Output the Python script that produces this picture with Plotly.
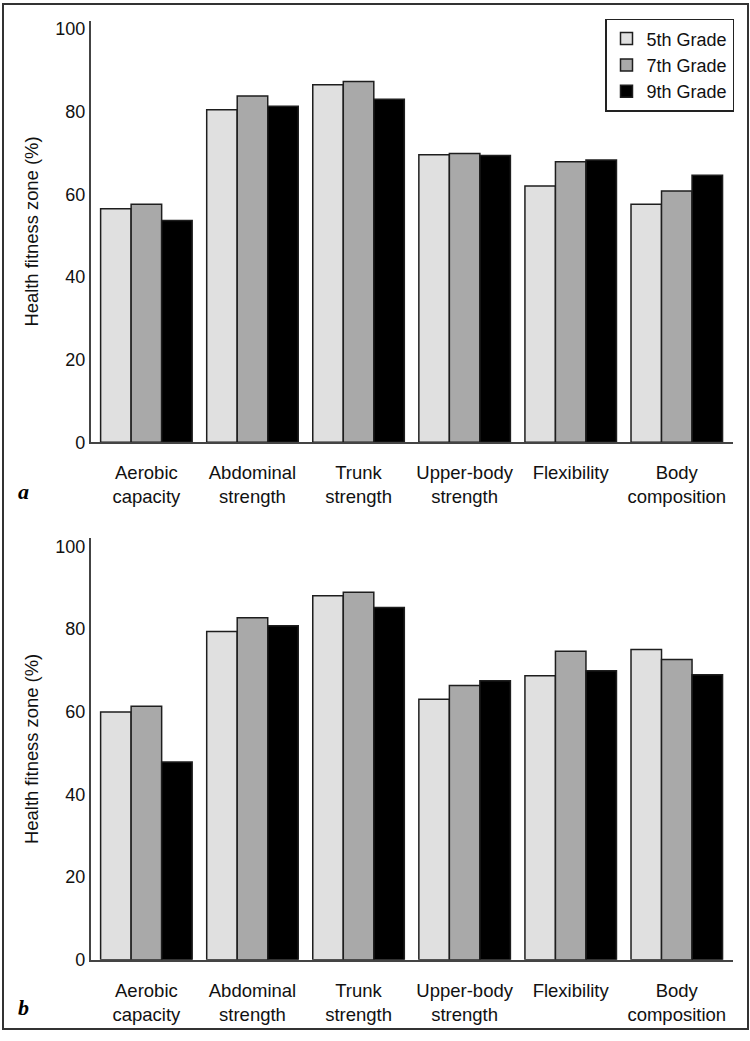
import plotly.graph_objects as go

# Fitness components (x categories) and grade groups
categories = ["Aerobic<br>capacity", "Abdominal<br>strength", "Trunk<br>strength",
              "Upper-body<br>strength", "Flexibility", "Body<br>composition"]
grades = ["5th Grade", "7th Grade", "9th Grade"]

# Panel a: percentage in the healthy fitness zone
panel_a_5th = [56.5, 80.5, 86.5, 69.6, 62.0, 57.6]
panel_a_7th = [57.6, 83.8, 87.3, 69.9, 67.9, 60.8]
panel_a_9th = [53.7, 81.3, 83.0, 69.4, 68.3, 64.6]

# Panel b: percentage in the healthy fitness zone
panel_b_5th = [59.9, 79.4, 88.0, 63.0, 68.7, 75.0]
panel_b_7th = [61.3, 82.7, 88.9, 66.3, 74.6, 72.6]
panel_b_9th = [47.8, 80.8, 85.2, 67.5, 69.9, 68.9]

y_ticks = [0, 20, 40, 60, 80, 100]

fills = ["#e0e0e0", "#a9a9a9", "#000000"]
outline = "#1e1e1e"
axis_col = "#444444"
font_family = "Liberation Sans, Arial, Helvetica, sans-serif"

W, H = 750, 1041

fig = go.Figure()

panels = [
    ("x", "y", [panel_a_5th, panel_a_7th, panel_a_9th], True),
    ("x2", "y2", [panel_b_5th, panel_b_7th, panel_b_9th], False),
]
for xa, ya, series, show in panels:
    for name, vals, col in zip(grades, series, fills):
        fig.add_trace(go.Bar(
            x=categories, y=vals, name=name, xaxis=xa, yaxis=ya,
            marker=dict(color=col, line=dict(color=outline, width=1.5)),
            showlegend=show, legendgroup=name,
        ))

def px_x(p):
    return p / W

def px_y(p):
    return 1 - p / H

x_dom = [px_x(90.7), px_x(733)]
x_range = [-0.525, 5.53]
y_range = [0, 102]

xaxis_common = dict(
    type="category", categoryorder="array", categoryarray=categories,
    range=x_range, showline=True, linecolor=axis_col, linewidth=1.5,
    ticks="", showgrid=False, zeroline=False,
    tickfont=dict(family=font_family, size=18.5, color="#111111"),
    ticklabelstandoff=13, fixedrange=True,
)
yaxis_common = dict(
    range=y_range, tickvals=y_ticks, showline=True, linecolor=axis_col,
    linewidth=1.5, ticks="", showgrid=False, zeroline=False,
    tickfont=dict(family=font_family, size=18, color="#111111"),
    ticklabelstandoff=0,
    title=dict(text="Health fitness zone (%)", standoff=12,
               font=dict(family=font_family, size=18.4, color="#111111")),
    fixedrange=True,
)

fig.update_layout(
    width=W, height=H,
    margin=dict(l=0, r=0, t=0, b=0),
    paper_bgcolor="white", plot_bgcolor="white",
    barmode="group", bargap=0.137, bargroupgap=0,
    xaxis=dict(domain=x_dom, anchor="y", **xaxis_common),
    yaxis=dict(domain=[px_y(446), px_y(20)], anchor="x", **yaxis_common),
    xaxis2=dict(domain=x_dom, anchor="y2", **xaxis_common),
    yaxis2=dict(domain=[px_y(969), px_y(542.7)], anchor="x2", **yaxis_common),
    legend=dict(
        x=px_x(605), y=px_y(18), xanchor="left", yanchor="top",
        bgcolor="white", bordercolor="#222222", borderwidth=1.5,
        font=dict(family=font_family, size=18, color="#111111"),
        traceorder="normal", itemclick=False, itemdoubleclick=False,
    ),
    showlegend=True,
)

# Outer frame around the whole figure
fig.add_shape(type="rect", xref="paper", yref="paper",
              x0=px_x(3), x1=px_x(748), y0=px_y(1039), y1=px_y(3),
              line=dict(color="#333333", width=2), fillcolor="rgba(0,0,0,0)")

# Panel letters
for letter, ypix in [("a", 496), ("b", 1017)]:
    fig.add_annotation(
        text=f"<b><i>{letter}</i></b>", xref="paper", yref="paper",
        x=px_x(23.5), y=px_y(ypix), xanchor="center", yanchor="middle",
        showarrow=False,
        font=dict(family="Liberation Serif, Times New Roman, serif", size=22, color="#000000"),
    )

fig.write_html("out.html")
